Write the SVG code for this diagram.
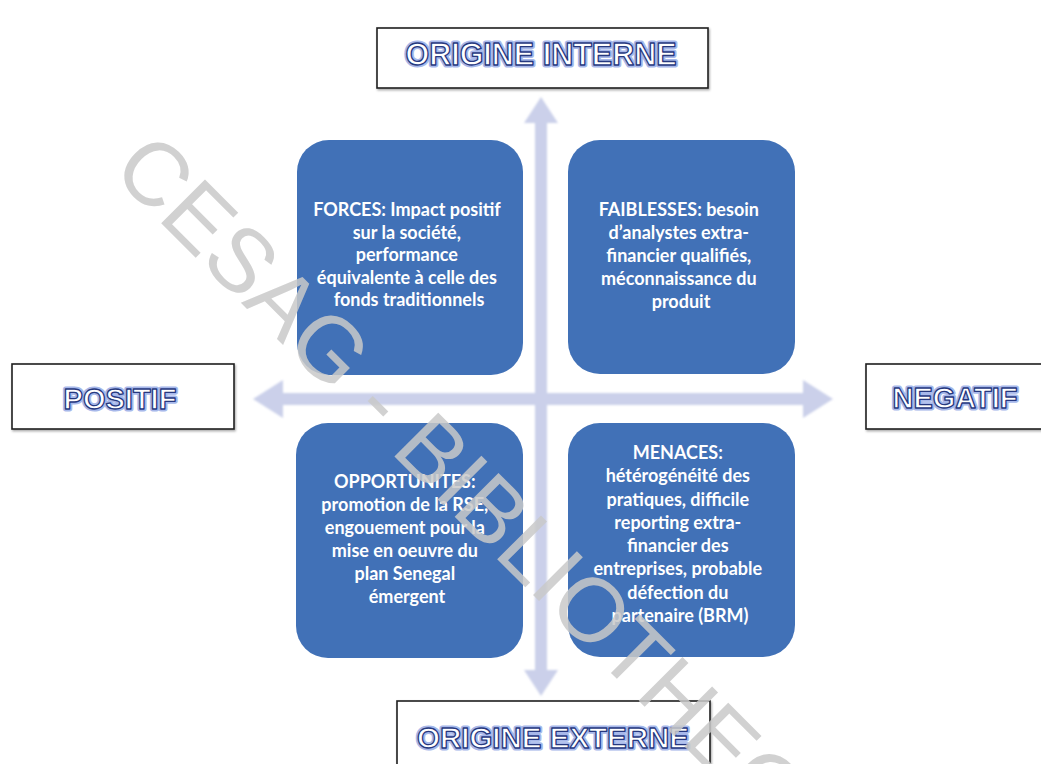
<svg xmlns="http://www.w3.org/2000/svg" width="1041" height="764" viewBox="0 0 1041 764">
  <defs>
    <filter id="soft" x="-10%" y="-10%" width="120%" height="120%">
      <feGaussianBlur stdDeviation="1.3"/>
    </filter>
    <filter id="shadow" x="-5%" y="-10%" width="110%" height="130%">
      <feDropShadow dx="1" dy="1.5" stdDeviation="1" flood-color="#000" flood-opacity="0.35"/>
    </filter>
    <style>
      .card { fill: #4171b7; }
      .card-text { font-family: Lato, "Open Sans", sans-serif; font-weight: bold; font-size: 18px; fill: #ffffff; text-anchor: middle; }
      .label-box { fill: #ffffff; stroke: #1e1e1e; stroke-width: 1.6; }
      .label-glow { font-family: "Liberation Sans", Arial, sans-serif; font-weight: bold; fill: none; stroke: #a7b8ea; stroke-width: 5; stroke-linejoin: round; text-anchor: middle; }
      .label-text { font-family: "Liberation Sans", Arial, sans-serif; font-weight: bold; fill: #ffffff; stroke: #26387f; stroke-width: 1.3; stroke-linejoin: round; text-anchor: middle; }
      .axis { fill: #cbd0ea; }
      .watermark { font-family: "Liberation Sans", Arial, sans-serif; font-size: 90px; fill: #c9c9c9; fill-opacity: 0.85; }
    </style>
  </defs>

  <rect width="1041" height="764" fill="#ffffff"/>

  <!-- axes -->
  <g id="connectors" filter="url(#soft)">
    <!-- vertical axis: internal (top) to external (bottom) -->
    <path class="axis" d="M541 97 L558 123 L547 123 L547 670 L558 670 L541 696 L524 670 L535 670 L535 123 L524 123 Z"/>
    <!-- horizontal axis: positive (left) to negative (right) -->
    <path class="axis" d="M253 399 L283 380 L283 393 L803 393 L803 380 L833 399 L803 418 L803 405 L283 405 L283 418 Z"/>
  </g>

  <!-- SWOT cards -->
  <g id="forces">
    <rect class="card" x="297" y="140" width="226" height="235" rx="32"/>
    <text class="card-text">
      <tspan x="409" y="216">FORCES: Impact positif</tspan>
      <tspan x="409" y="239">sur la société,</tspan>
      <tspan x="409" y="261">performance</tspan>
      <tspan x="409" y="284">équivalente à celle des</tspan>
      <tspan x="409" y="306">fonds traditionnels</tspan>
    </text>
  </g>

  <g id="faiblesses">
    <rect class="card" x="568" y="140" width="227" height="234" rx="32"/>
    <text class="card-text">
      <tspan x="681" y="216">FAIBLESSES: besoin</tspan>
      <tspan x="681" y="239">d’analystes extra-</tspan>
      <tspan x="681" y="262">financier qualifiés,</tspan>
      <tspan x="681" y="285">méconnaissance du</tspan>
      <tspan x="681" y="308">produit</tspan>
    </text>
  </g>

  <g id="opportunites">
    <rect class="card" x="296" y="423" width="227" height="235" rx="32"/>
    <text class="card-text">
      <tspan x="407" y="488">OPPORTUNITES:</tspan>
      <tspan x="407" y="511">promotion de la RSE,</tspan>
      <tspan x="407" y="534">engouement pour la</tspan>
      <tspan x="407" y="557">mise en oeuvre du</tspan>
      <tspan x="407" y="580">plan Senegal</tspan>
      <tspan x="407" y="603">émergent</tspan>
    </text>
  </g>

  <g id="menaces">
    <rect class="card" x="568" y="423" width="227" height="234" rx="32"/>
    <text class="card-text">
      <tspan x="680" y="459">MENACES:</tspan>
      <tspan x="680" y="482">hétérogénéité des</tspan>
      <tspan x="680" y="506">pratiques, difficile</tspan>
      <tspan x="680" y="529">reporting extra-</tspan>
      <tspan x="680" y="552">financier des</tspan>
      <tspan x="680" y="575">entreprises, probable</tspan>
      <tspan x="680" y="599">défection du</tspan>
      <tspan x="680" y="622">partenaire (BRM)</tspan>
    </text>
  </g>

  <!-- axis labels -->
  <g id="origine-interne">
    <rect class="label-box" x="377" y="28" width="331" height="60" filter="url(#shadow)"/>
    <text class="label-glow" x="541" y="65" font-size="30.5">ORIGINE INTERNE</text>
    <text class="label-text" x="541" y="65" font-size="30.5">ORIGINE INTERNE</text>
  </g>

  <g id="positif">
    <rect class="label-box" x="12" y="364" width="222" height="65" filter="url(#shadow)"/>
    <text class="label-glow" x="120" y="409" font-size="29">POSITIF</text>
    <text class="label-text" x="120" y="409" font-size="29">POSITIF</text>
  </g>

  <g id="negatif">
    <rect class="label-box" x="866" y="364" width="185" height="65" filter="url(#shadow)"/>
    <text class="label-glow" x="955" y="408" font-size="29">NEGATIF</text>
    <text class="label-text" x="955" y="408" font-size="29">NEGATIF</text>
  </g>

  <g id="origine-externe">
    <rect class="label-box" x="397" y="701" width="313" height="75" filter="url(#shadow)"/>
    <text class="label-glow" x="553" y="748" font-size="29.5">ORIGINE EXTERNE</text>
    <text class="label-text" x="553" y="748" font-size="29.5">ORIGINE EXTERNE</text>
  </g>

  <!-- library watermark -->
  <text class="watermark" transform="translate(110 172) rotate(45)">CESAG - BIBLIOTHEQUE</text>
</svg>
